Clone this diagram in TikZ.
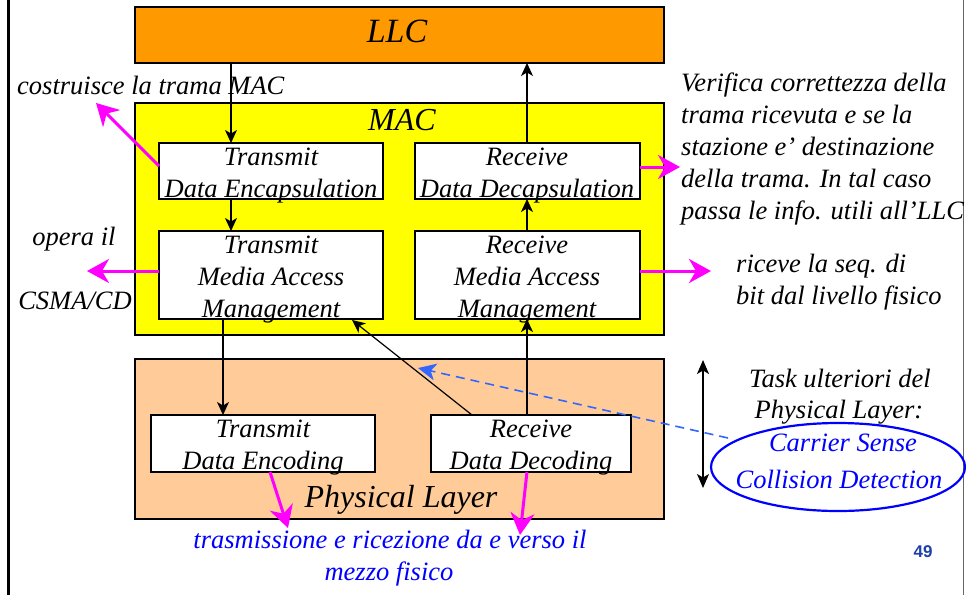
\documentclass[tikz,border=0pt]{standalone}
\usepackage{fontspec}
\setmainfont{Liberation Serif}
\setsansfont{Liberation Sans}
\usetikzlibrary{arrows.meta,shapes.geometric}
\definecolor{llcor}{HTML}{FF9900}
\definecolor{macyel}{HTML}{FFFF00}
\definecolor{physor}{HTML}{FFCC99}
\definecolor{mag}{HTML}{FF00FF}
\definecolor{txtblue}{HTML}{0000FF}
\definecolor{dashblue}{HTML}{3366FF}
\definecolor{pagenum}{HTML}{1E40AA}
\tikzset{
  layer/.style={draw=black, line width=1.4pt, inner sep=0pt},
  box/.style={draw=black, fill=white, line width=1.4pt, inner sep=0pt, minimum width=224pt, minimum height=56pt},
  lbl/.style={font=\fontsize{26.5}{32}\selectfont\itshape, inner sep=0pt, anchor=base},
  lblw/.style={lbl, anchor=base west},
  blbl/.style={lbl, text=txtblue},
  big/.style={font=\fontsize{32}{38}\selectfont\itshape, inner sep=0pt, anchor=base},
  flow/.style={draw=black, line width=1.2pt, -{Stealth[length=13pt, width=12pt, inset=3.5pt]}},
  magarrow/.style={draw=mag, line width=3pt, -{Stealth[length=22pt, width=24pt, inset=7pt]}},
}
\begin{document}
\begin{tikzpicture}[x=1pt, y=-1pt]
\useasboundingbox (0,0) rectangle (966,595);
% page borders
\draw[line width=3pt] (8,0) -- (8,595);
\draw[line width=1pt, black!60] (963,0) -- (963,595);

% layers
\node[layer, fill=llcor, minimum width=529pt, minimum height=56pt] (llc) at (399.5,35) {};
\node[big, font=\fontsize{34}{40}\selectfont\itshape] (llct) at (397,42) {LLC};
\node[layer, fill=macyel, minimum width=529pt, minimum height=232pt] (mac) at (399.5,219) {};
\node[big] (mact) at (402,130) {MAC};
\node[layer, fill=physor, minimum width=529pt, minimum height=160pt] (phy) at (399.5,439) {};
\node[big] (phyt) at (401,507) {Physical Layer};

% MAC sub-boxes
\node[box] (tde) at (271,171) {};
\node[lbl] (tde1) at (271,165) {Transmit};
\node[lbl] (tde2) at (271,197) {Data Encapsulation};
\node[box, minimum width=225pt] (rdd) at (527.5,171) {};
\node[lbl] (rdd1) at (527,165) {Receive};
\node[lbl] (rdd2) at (527,197) {Data Decapsulation};
\node[box, minimum height=88pt] (tmam) at (271,275) {};
\node[lbl] (tmam1) at (271,253) {Transmit};
\node[lbl] (tmam2) at (271,285) {Media Access};
\node[lbl] (tmam3) at (271,317) {Management};
\node[box, minimum width=225pt, minimum height=88pt] (rmam) at (527.5,275) {};
\node[lbl] (rmam1) at (527,253) {Receive};
\node[lbl] (rmam2) at (527,285) {Media Access};
\node[lbl] (rmam3) at (527,317) {Management};

% Physical sub-boxes
\node[box, minimum height=57pt] (tenc) at (263,443.5) {};
\node[lbl] (tenc1) at (263,437) {Transmit};
\node[lbl] (tenc2) at (263,469) {Data Encoding};
\node[box, minimum width=200pt, minimum height=57pt] (rdec) at (531,443.5) {};
\node[lbl] (rdec1) at (531,437) {Receive};
\node[lbl] (rdec2) at (531,469) {Data Decoding};

% black flows
\coordinate (a1s) at (231,63); \coordinate (a1e) at (231,143);
\draw[flow] (a1s) -- (a1e);
\coordinate (a2s) at (231,199); \coordinate (a2e) at (231,231);
\draw[flow] (a2s) -- (a2e);
\coordinate (a3s) at (223,319); \coordinate (a3e) at (223,415);
\draw[flow] (a3s) -- (a3e);
\coordinate (a4s) at (527,415); \coordinate (a4e) at (527,319);
\draw[flow] (a4s) -- (a4e);
\coordinate (a5s) at (527,231); \coordinate (a5e) at (527,199);
\draw[flow] (a5s) -- (a5e);
\coordinate (a6s) at (527,143); \coordinate (a6e) at (527,63);
\draw[flow] (a6s) -- (a6e);
\coordinate (a7s) at (472,415); \coordinate (a7e) at (352,320);
\draw[flow] (a7s) -- (a7e);

% double arrow
\coordinate (d1) at (703,360); \coordinate (d2) at (703,488);
\draw[line width=1.2pt, {Stealth[length=14pt, width=12pt, inset=3.5pt]}-{Stealth[length=14pt, width=12pt, inset=3.5pt]}] (d1) -- (d2);

% ellipse
\node[ellipse, draw=txtblue, line width=2.2pt, minimum width=254pt, minimum height=88pt, inner sep=0pt] (cd) at (838,467) {};
\node[blbl] (cd1) at (843,451) {Carrier Sense};
\node[blbl] (cd2) at (839,488) {Collision Detection};

% dashed blue arrow
\coordinate (bds) at (728,438);
\coordinate (bd) at (418,368);
\draw[dashblue, line width=1.6pt, dash pattern=on 9pt off 6pt, -{Stealth[length=18pt, width=17pt, inset=5pt]}] (bds) -- (bd);

% magenta arrows
\coordinate (m1s) at (159,166); \coordinate (m1e) at (96,103);
\draw[magarrow] (m1s) -- (m1e);
\coordinate (m2s) at (159,271); \coordinate (m2e) at (87,271);
\draw[magarrow] (m2s) -- (m2e);
\coordinate (m3s) at (640,167); \coordinate (m3e) at (680,167);
\draw[magarrow] (m3s) -- (m3e);
\coordinate (m4s) at (640,271); \coordinate (m4e) at (711,271);
\draw[magarrow] (m4s) -- (m4e);
\coordinate (m5s) at (270,472); \coordinate (m5e) at (288,528);
\draw[magarrow] (m5s) -- (m5e);
\coordinate (m6s) at (527,472); \coordinate (m6e) at (520,535);
\draw[magarrow] (m6s) -- (m6e);

% side texts
\node[lblw] (c1) at (17,94) {costruisce la trama MAC};
\node[lbl] (o1) at (74,245) {opera il};
\node[lbl] (o2) at (75,309) {CSMA/CD};
\node[lblw] (v1) at (681,91) {Verifica correttezza della};
\node[lblw] (v2) at (681,123) {trama ricevuta e se la};
\node[lblw] (v3) at (681,155) {stazione e’ destinazione};
\node[lblw] (v4) at (681,187) {della trama. In tal caso};
\node[lblw] (v5) at (681,219) {passa le info. utili all’LLC};
\node[lblw] (r1) at (736,272) {riceve la seq. di};
\node[lblw] (r2) at (736,304) {bit dal livello fisico};
\node[lbl] (t1) at (840,387) {Task ulteriori del};
\node[lbl] (t2) at (839,418) {Physical Layer:};
\node[blbl] (b1) at (390,548) {trasmissione e ricezione da e verso il};
\node[blbl] (b2) at (389,580) {mezzo fisico};
\node[font=\sffamily\bfseries\fontsize{17}{20}\selectfont, text=pagenum, inner sep=0pt, anchor=base] (pn) at (923,557) {49};
\end{tikzpicture}
\end{document}
